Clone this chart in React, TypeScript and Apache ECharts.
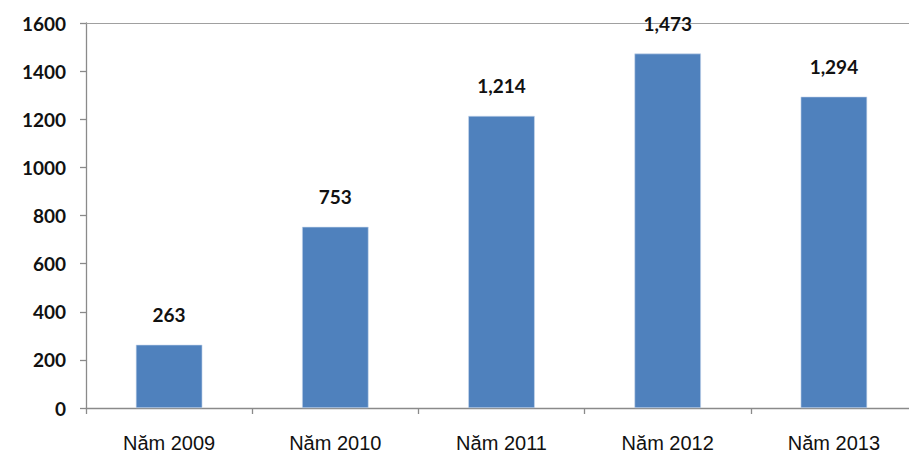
import React, { useEffect, useRef } from "react";
import * as echarts from "echarts";

const categories = ["Năm 2009", "Năm 2010", "Năm 2011", "Năm 2012", "Năm 2013"];
const values = [263, 753, 1214, 1473, 1294];
const yMin = 0;
const yMax = 1600;
const yInterval = 200;

export default function App() {
  const ref = useRef<HTMLDivElement>(null);
  useEffect(() => {
    document.body.style.margin = "0";
    document.body.style.overflow = "hidden";
    const chart = echarts.init(ref.current!, null, { renderer: "svg" });
    const font = "'Liberation Sans', Arial, sans-serif";
    const boldFont = "Lato, 'Liberation Sans', sans-serif";
    chart.setOption({
      animation: false,
      grid: { left: 86, width: 831, top: 23, height: 385, containLabel: false, outerBoundsMode: "none" },
      xAxis: [
        {
          type: "category",
          data: categories,
          axisLine: { show: true, lineStyle: { color: "#8a8a8a", width: 1.3 } },
          axisTick: { show: true, alignWithLabel: false, length: 6, lineStyle: { color: "#8a8a8a", width: 1.3 } },
          axisLabel: { color: "#111", fontSize: 20, fontFamily: font, margin: 25 },
          splitLine: { show: false },
        },
        {
          type: "category",
          position: "top",
          data: categories,
          axisLine: { show: true, lineStyle: { color: "#a0a0a0", width: 1 } },
          axisTick: { show: false },
          axisLabel: { show: false },
          splitLine: { show: false },
        },
      ],
      yAxis: {
        type: "value",
        min: yMin,
        max: yMax,
        interval: yInterval,
        axisLine: { show: true, lineStyle: { color: "#8a8a8a", width: 1.3 } },
        axisTick: { show: true, length: 6, lineStyle: { color: "#8a8a8a", width: 1.3 } },
        axisLabel: {
          color: "#111",
          fontSize: 19,
          fontWeight: "bold",
          fontFamily: boldFont,
          margin: 20,
          formatter: (v: number) => String(v),
        },
        splitLine: { show: false },
      },
      series: [
        {
          type: "bar",
          data: values,
          barWidth: "40%",
          itemStyle: { color: "#4F81BD", borderColor: "#c9d8ec", borderWidth: 0.6 },
          label: {
            show: true,
            position: "top",
            distance: 21,
            color: "#111",
            fontSize: 19,
            fontWeight: "bold",
            fontFamily: boldFont,
            formatter: (p: any) => Number(p.value).toLocaleString("en-US"),
          },
        },
      ],
    });
    return () => chart.dispose();
  }, []);
  return <div ref={ref} style={{ width: 909, height: 455 }} />;
}
